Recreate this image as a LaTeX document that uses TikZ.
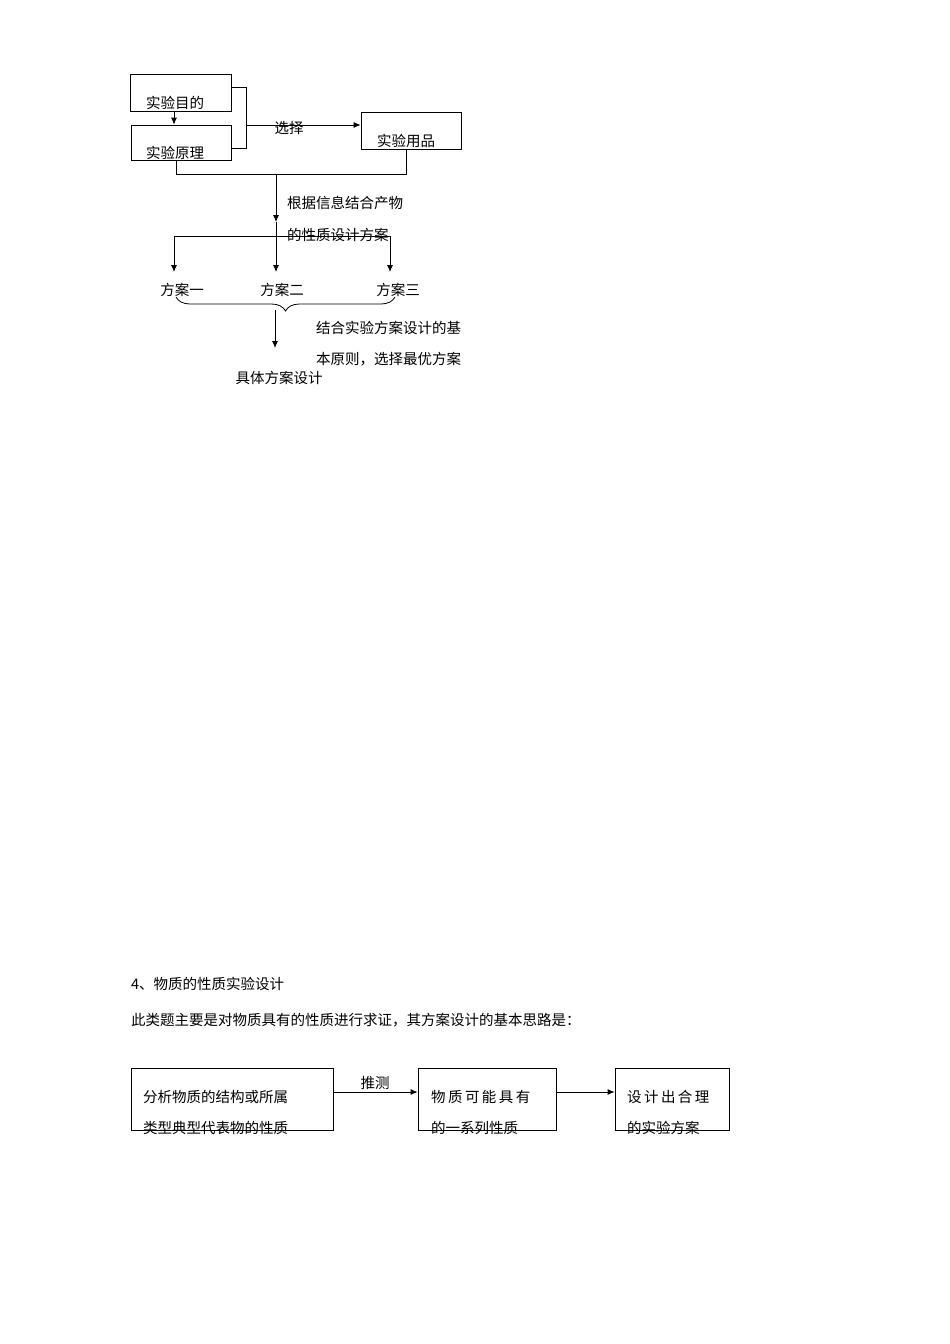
\documentclass[tikz,border=0pt]{standalone}
\usepackage{fontspec}
\setmainfont{Noto Sans CJK SC}
\usetikzlibrary{decorations.pathreplacing,arrows.meta}
\begin{document}
\begin{tikzpicture}[x=1pt,y=-1pt,
  bx/.style={draw,line width=0.8pt},
  ln/.style={line width=0.8pt},
  ar/.style={ln,-{Latex[length=7pt,width=6pt]}},
  t/.style={font=\fontsize{14.5}{16}\selectfont,inner sep=0pt}]
\useasboundingbox (0,0) rectangle (950,1344);
% top diagram
\node[bx,minimum width=101,minimum height=37,inner sep=0] (b1) at (180.5,92.5) {};
\node[bx,minimum width=100,minimum height=35,inner sep=0] (b2) at (181,142.5) {};
\node[bx,minimum width=100,minimum height=37,inner sep=0] (b3) at (411,130.5) {};
\node[t] (t1) at (175,103) {实验目的};
\node[t] (t2) at (175,153) {实验原理};
\node[t] (t3) at (406,141) {实验用品};
\draw[ar] (b1.south -| 174,0) -- (b2.north -| 174,0);
\draw[ln] (b1.east |- 0,87) -- (246,87) -- (246,148) -- (b2.east |- 0,148);
\draw[ar] (246,125) -- (b3.west |- 0,125);
\node[t] (xz) at (289,128) {选择};
\coordinate (j) at (276,174);
\draw[ln] (b2.south -| 176,0) -- (176,174) -- (406,174) -- (b3.south -| 406,0);
\draw[ar] (j) -- (276,222);
\draw[ar] (276,222) -- (276,272);
\draw[ln] (174,236) -- (390,236);
\draw[ar] (174,236) -- (174,272);
\draw[ar] (390,236) -- (390,272);
\node[t,anchor=west] (g1) at (287,203) {根据信息结合产物};
\node[t,anchor=west] (g2) at (287,235) {的性质设计方案};
\node[t] (f1) at (182,290) {方案一};
\node[t] (f2) at (282,290) {方案二};
\node[t] (f3) at (398,290) {方案三};
\draw[ln,decorate,decoration={brace,mirror,amplitude=14pt}] (176,297) -- (395,297);
\draw[ar] (275,310) -- (275,348);
\node[t,anchor=west] (c1) at (316,328) {结合实验方案设计的基};
\node[t,anchor=west] (c2) at (316,359) {本原则，选择最优方案};
\node[t] (jt) at (279,378) {具体方案设计};
% bottom
\node[t,anchor=west] (h) at (131,984) {4、物质的性质实验设计};
\node[t,anchor=west] (p) at (131,1020) {此类题主要是对物质具有的性质进行求证，其方案设计的基本思路是：};
\node[bx,minimum width=202,minimum height=62,inner sep=0] (d1) at (232,1099) {};
\node[bx,minimum width=138,minimum height=62,inner sep=0] (d2) at (487,1099) {};
\node[bx,minimum width=114,minimum height=62,inner sep=0] (d3) at (672,1099) {};
\node[t,anchor=west] at (143,1097) {分析物质的结构或所属};
\node[t,anchor=west] at (143,1128) {类型典型代表物的性质};
\node[t,anchor=west] at (431,1097) {物\,质\,可\,能\,具\,有};
\node[t,anchor=west] at (431,1128) {的一系列性质};
\node[t,anchor=west] at (627,1097) {设\,计\,出\,合\,理};
\node[t,anchor=west] at (627,1128) {的实验方案};
\draw[ar] (d1.east |- 0,1092) -- (d2.west |- 0,1092);
\node[t] at (375,1083) {推测};
\draw[ar] (d2.east |- 0,1092) -- (d3.west |- 0,1092);
\end{tikzpicture}
\end{document}
